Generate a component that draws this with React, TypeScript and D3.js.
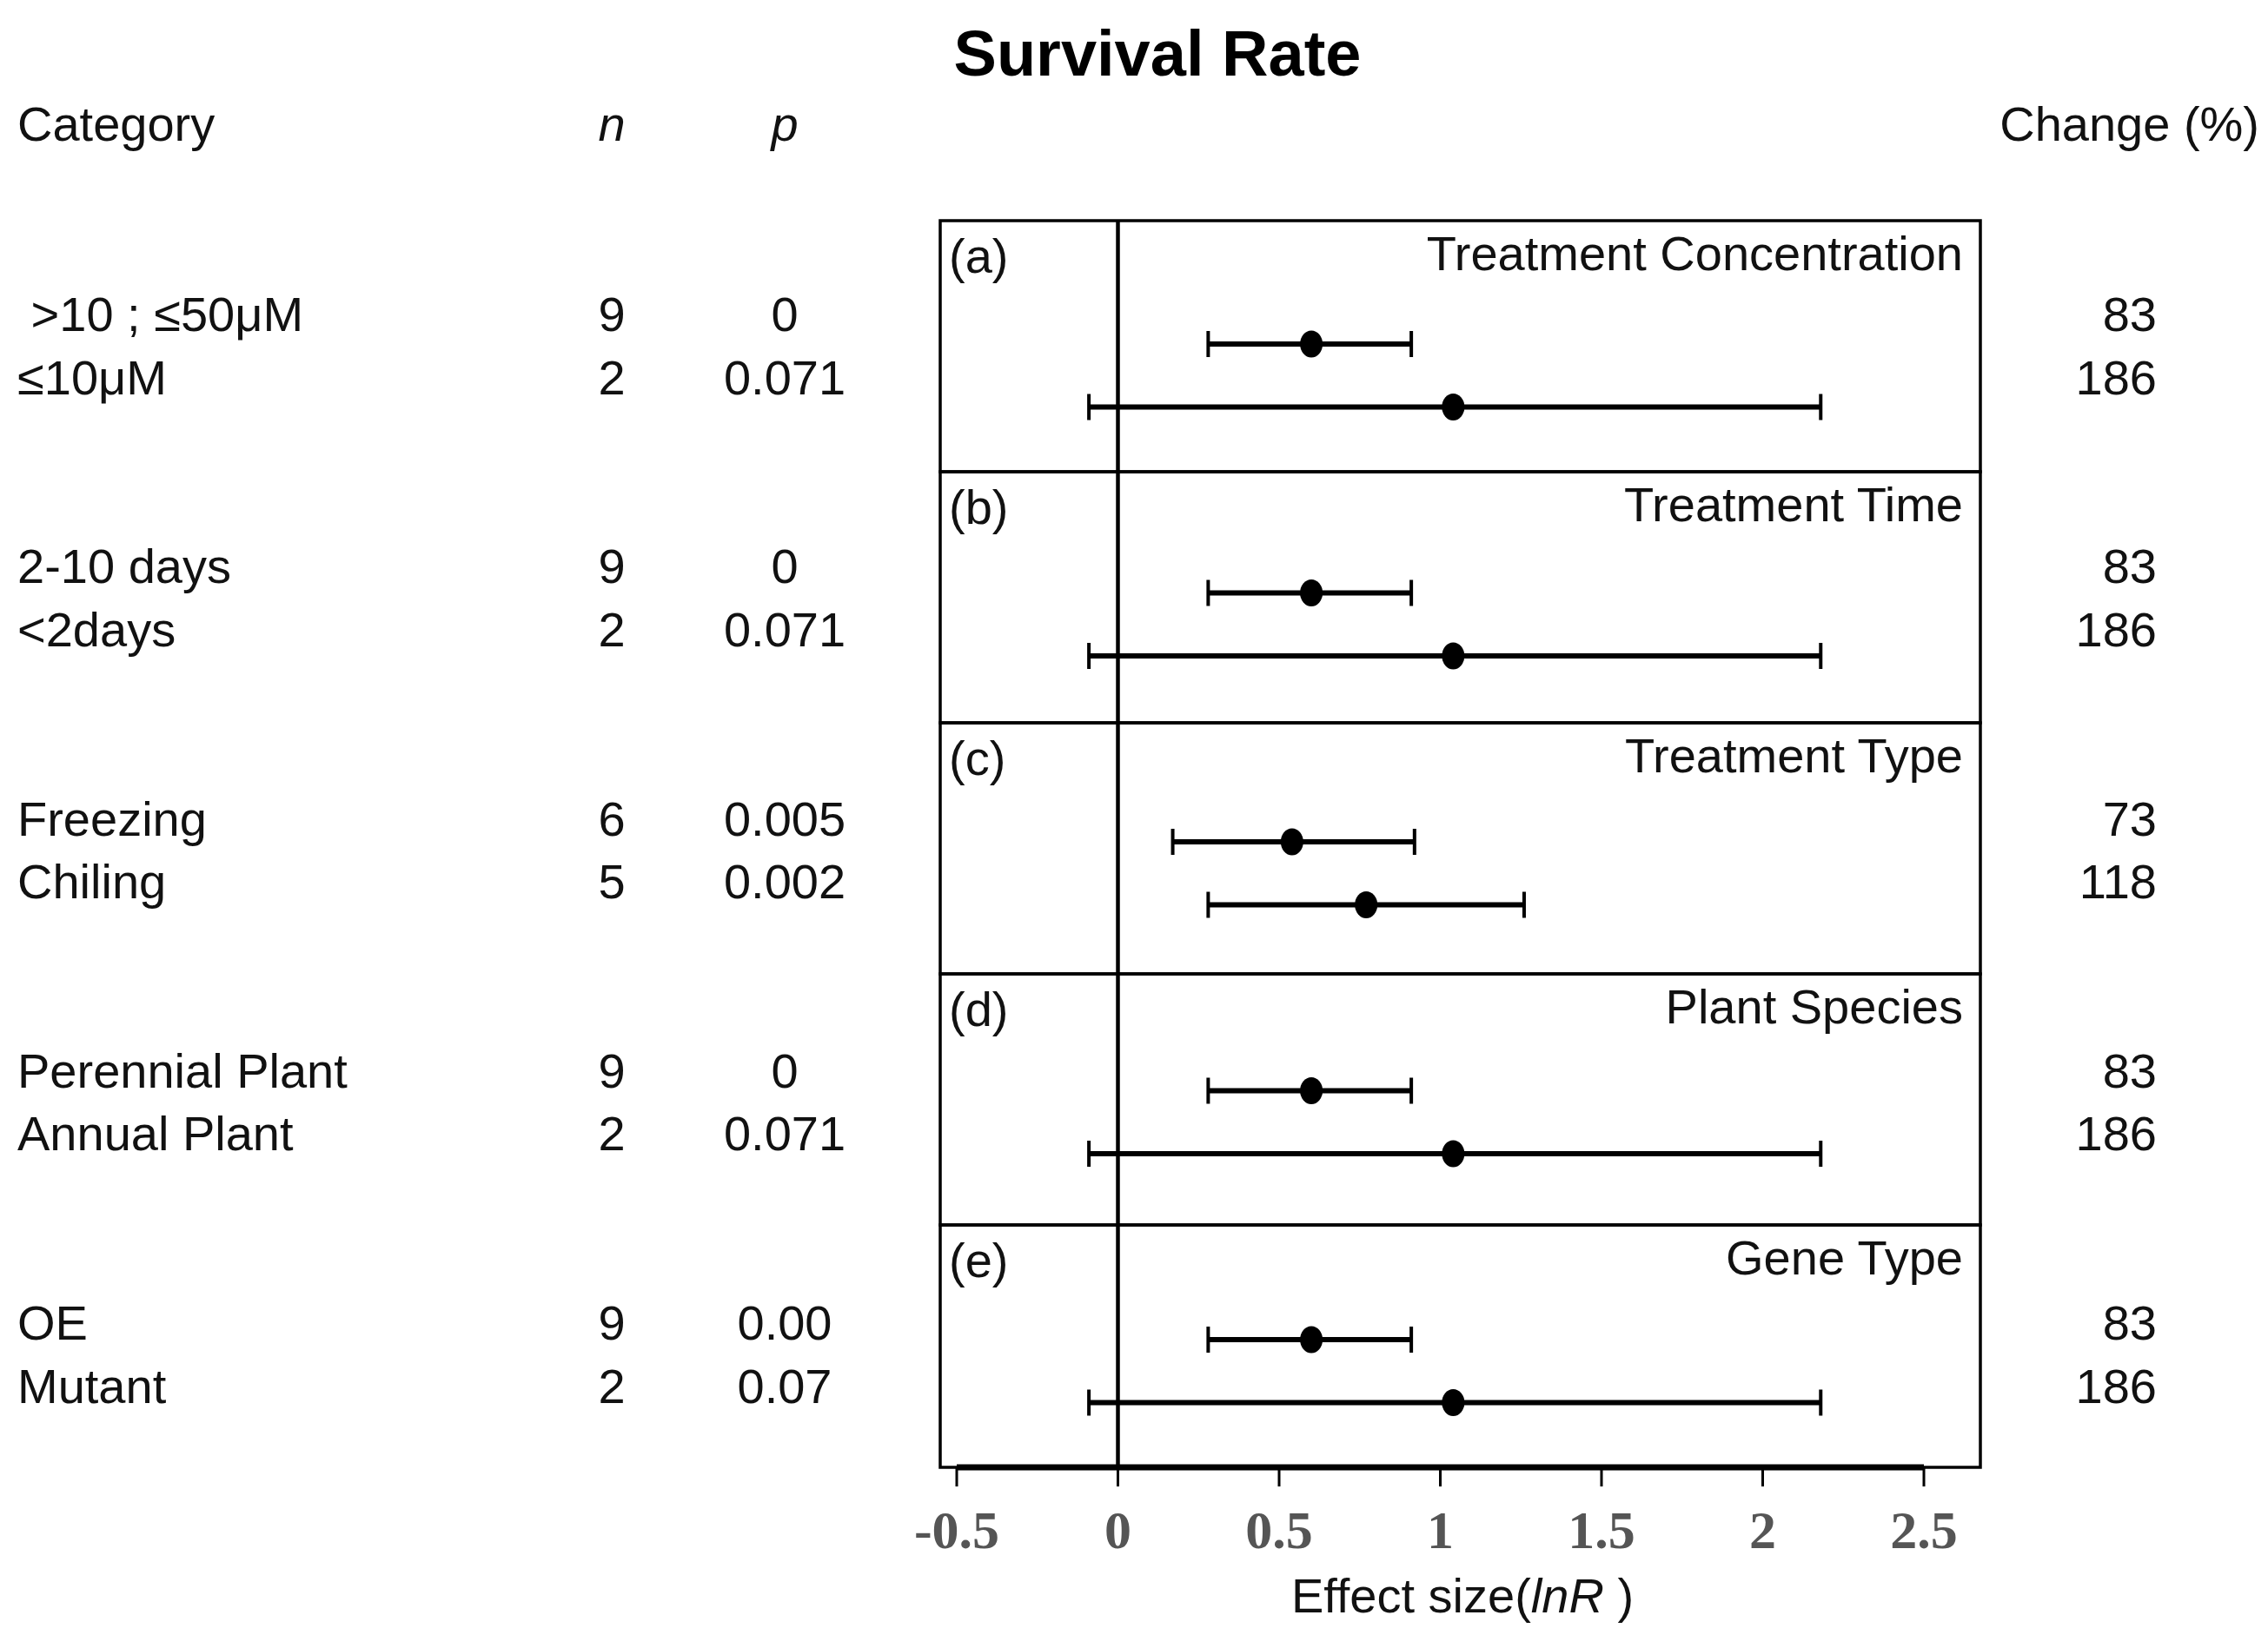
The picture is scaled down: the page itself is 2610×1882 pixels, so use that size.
import React from 'react';
import * as d3 from 'd3';

// ---- data ----
const groupTitles = ['Treatment Concentration', 'Treatment Time', 'Treatment Type', 'Plant Species', 'Gene Type'];
const panelTags = ['(a)', '(b)', '(c)', '(d)', '(e)'];
const rowLabels = [
  [' >10 ; \u226450\u03bcM', '\u226410\u03bcM'],
  ['2-10 days', '<2days'],
  ['Freezing', 'Chiling'],
  ['Perennial Plant', 'Annual Plant'],
  ['OE', 'Mutant'],
];
const nValues = [[9, 2], [9, 2], [6, 5], [9, 2], [9, 2]];
const pValues = [['0', '0.071'], ['0', '0.071'], ['0.005', '0.002'], ['0', '0.071'], ['0.00', '0.07']];
const changePct = [[83, 186], [83, 186], [73, 118], [83, 186], [83, 186]];
const means = [[0.6, 1.04], [0.6, 1.04], [0.54, 0.77], [0.6, 1.04], [0.6, 1.04]];
const lowers = [[0.28, -0.09], [0.28, -0.09], [0.17, 0.28], [0.28, -0.09], [0.28, -0.09]];
const uppers = [[0.91, 2.18], [0.91, 2.18], [0.92, 1.26], [0.91, 2.18], [0.91, 2.18]];
const xDomain: [number, number] = [-0.5, 2.5];

const W = 2610;
const H = 1882;
const sans = '"Liberation Sans", Arial, Helvetica, sans-serif';
const serif = '"Liberation Serif", "Times New Roman", serif';
const fs = 56;

const App: React.FC = () => {
  const panelLeft = 1082;
  const panelRight = 2279;
  const panelTop = 254;
  const panelBottom = 1689;
  const panelStep = 289;

  const x = d3.scaleLinear().domain(xDomain).range([1101, 2214]);
  const panelY = d3.scaleLinear().domain([0, 1]).range([panelTop, panelTop + panelStep]);
  const barY = d3.scaleLinear().domain([0, 4]).range([396, 1542]);
  const textY = d3.scaleLinear().domain([0, 4]).range([381, 1542]);
  const rowGap = 72.5;
  const ticks = x.ticks(6);

  const cap = 15;

  return (
    <svg width={W} height={H} style={{ position: 'absolute', left: 0, top: 0, background: '#fff' }}
      fontFamily={sans}>
      <rect x={0} y={0} width={W} height={H} fill="#fff" />
      <text x={1332} y={87} textAnchor="middle" fontWeight="bold" fontSize={74} fill="#000">Survival Rate</text>

      {/* column headers */}
      <g fontSize={fs} fill="#111">
        <text x={20} y={162}>Category</text>
        <text x={704} y={162} textAnchor="middle" fontStyle="italic">n</text>
        <text x={903} y={162} textAnchor="middle" fontStyle="italic">p</text>
        <text x={2600} y={162} textAnchor="end">Change (%)</text>
      </g>

      {/* panels */}
      {groupTitles.map((title, i) => {
        const top = panelY(i);
        const bottom = i === groupTitles.length - 1 ? panelBottom : panelY(i + 1);
        return (
          <g key={title}>
            <rect x={panelLeft} y={top} width={panelRight - panelLeft} height={bottom - top}
              fill="none" stroke="#000" strokeWidth={3.5} />
            <text x={panelLeft + 10} y={top + 60} fontSize={fs} fill="#111">{panelTags[i]}</text>
            <text x={panelRight - 20} y={top + 57} fontSize={fs} fill="#111" textAnchor="end">{title}</text>
          </g>
        );
      })}

      {/* zero line */}
      <line x1={x(0)} x2={x(0)} y1={panelTop} y2={panelBottom} stroke="#000" strokeWidth={4.5} />

      {/* rows */}
      {groupTitles.map((title, i) => (
        <g key={'rows' + i}>
          {rowLabels[i].map((lab, j) => {
            const ty = textY(i) + j * rowGap;
            const by = barY(i) + j * rowGap;
            return (
              <g key={j}>
                <text x={20} y={ty} fontSize={fs} fill="#111" style={{ whiteSpace: 'pre' }}>{lab}</text>
                <text x={704} y={ty} fontSize={fs} fill="#111" textAnchor="middle">{nValues[i][j]}</text>
                <text x={903} y={ty} fontSize={fs} fill="#111" textAnchor="middle">{pValues[i][j]}</text>
                <text x={2482} y={ty} fontSize={fs} fill="#111" textAnchor="end">{changePct[i][j]}</text>
                <line x1={x(lowers[i][j])} x2={x(uppers[i][j])} y1={by} y2={by} stroke="#000" strokeWidth={6} />
                <line x1={x(lowers[i][j])} x2={x(lowers[i][j])} y1={by - cap} y2={by + cap} stroke="#000" strokeWidth={4} />
                <line x1={x(uppers[i][j])} x2={x(uppers[i][j])} y1={by - cap} y2={by + cap} stroke="#000" strokeWidth={4} />
                <ellipse cx={x(means[i][j])} cy={by} rx={13} ry={15.5} fill="#000" />
              </g>
            );
          })}
        </g>
      ))}

      {/* x axis */}
      <line x1={x(xDomain[0])} x2={x(xDomain[1])} y1={panelBottom} y2={panelBottom} stroke="#000" strokeWidth={7} />
      {ticks.map(t => (
        <g key={t}>
          <line x1={x(t)} x2={x(t)} y1={panelBottom} y2={panelBottom + 22} stroke="#000" strokeWidth={3} />
          <text x={x(t)} y={1782} textAnchor="middle" fontFamily={serif} fontWeight="bold" fontSize={62} fill="#555">
            {String(t)}
          </text>
        </g>
      ))}
      <text x={1683} y={1856} textAnchor="middle" fontSize={fs} fill="#111">
        Effect size(<tspan fontStyle="italic">lnR</tspan> )
      </text>
    </svg>
  );
};

export default App;
